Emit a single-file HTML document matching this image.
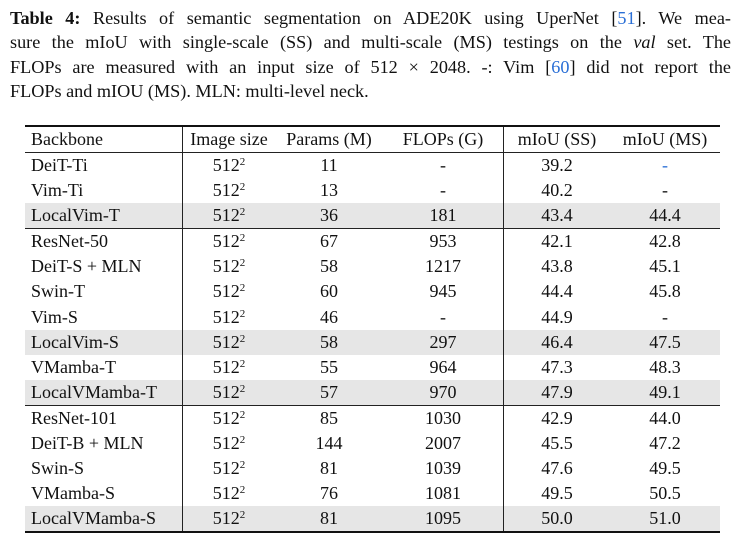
<!DOCTYPE html>
<html><head><style>
body{margin:0;width:745px;height:542px;background:#fff;font-family:"Liberation Serif",serif;color:#111;position:relative;overflow:hidden}
.cap{position:absolute;left:10px;top:6px;width:721px;font-size:18.2px;line-height:24.3px}
.cap div{text-align:justify;text-align-last:justify;white-space:nowrap}
.cap div.l{text-align-last:left}
.cap b{font-weight:bold}
.blue{color:#2a6fd6}
table{position:absolute;left:25px;top:125px;width:695px;border-collapse:collapse;font-size:18px}
td{padding:0;text-align:center;white-space:nowrap;line-height:25.1px;height:25.1px}
td:first-child{text-align:left;padding-left:6px;width:151px;border-right:1px solid #222}
td:nth-child(2){width:92px}td:nth-child(3){width:108px}td:nth-child(4){width:120px;border-right:1px solid #222}
td:nth-child(5){width:106px}
tr.h td{height:25px;line-height:25px}
tr.g td{background:#e6e6e6}
tr.top{border-top:2px solid #111}
tr.hb{border-bottom:1px solid #222}
tr.mb{border-bottom:1px solid #222}
tr.last{border-bottom:2px solid #111}
sup{font-size:11px;vertical-align:6px;line-height:0}
</style></head><body>
<div class="cap">
<div><b>Table 4:</b> Results of semantic segmentation on ADE20K using UperNet [<span class="blue">51</span>]. We mea-</div>
<div>sure the mIoU with single-scale (SS) and multi-scale (MS) testings on the <i>val</i> set. The</div>
<div>FLOPs are measured with an input size of 512 × 2048. -: Vim [<span class="blue">60</span>] did not report the</div>
<div class="l">FLOPs and mIOU (MS). MLN: multi-level neck.</div>
</div>
<table>
<tr class="h top hb"><td>Backbone</td><td>Image size</td><td>Params (M)</td><td>FLOPs (G)</td><td>mIoU (SS)</td><td>mIoU (MS)</td></tr>
<tr><td>DeiT-Ti</td><td>512<sup>2</sup></td><td>11</td><td>-</td><td>39.2</td><td class="blue">-</td></tr>
<tr><td>Vim-Ti</td><td>512<sup>2</sup></td><td>13</td><td>-</td><td>40.2</td><td>-</td></tr>
<tr class="g mb"><td>LocalVim-T</td><td>512<sup>2</sup></td><td>36</td><td>181</td><td>43.4</td><td>44.4</td></tr>
<tr><td>ResNet-50</td><td>512<sup>2</sup></td><td>67</td><td>953</td><td>42.1</td><td>42.8</td></tr>
<tr><td>DeiT-S + MLN</td><td>512<sup>2</sup></td><td>58</td><td>1217</td><td>43.8</td><td>45.1</td></tr>
<tr><td>Swin-T</td><td>512<sup>2</sup></td><td>60</td><td>945</td><td>44.4</td><td>45.8</td></tr>
<tr><td>Vim-S</td><td>512<sup>2</sup></td><td>46</td><td>-</td><td>44.9</td><td>-</td></tr>
<tr class="g"><td>LocalVim-S</td><td>512<sup>2</sup></td><td>58</td><td>297</td><td>46.4</td><td>47.5</td></tr>
<tr><td>VMamba-T</td><td>512<sup>2</sup></td><td>55</td><td>964</td><td>47.3</td><td>48.3</td></tr>
<tr class="g mb"><td>LocalVMamba-T</td><td>512<sup>2</sup></td><td>57</td><td>970</td><td>47.9</td><td>49.1</td></tr>
<tr><td>ResNet-101</td><td>512<sup>2</sup></td><td>85</td><td>1030</td><td>42.9</td><td>44.0</td></tr>
<tr><td>DeiT-B + MLN</td><td>512<sup>2</sup></td><td>144</td><td>2007</td><td>45.5</td><td>47.2</td></tr>
<tr><td>Swin-S</td><td>512<sup>2</sup></td><td>81</td><td>1039</td><td>47.6</td><td>49.5</td></tr>
<tr><td>VMamba-S</td><td>512<sup>2</sup></td><td>76</td><td>1081</td><td>49.5</td><td>50.5</td></tr>
<tr class="g last"><td>LocalVMamba-S</td><td>512<sup>2</sup></td><td>81</td><td>1095</td><td>50.0</td><td>51.0</td></tr>
</table>
</body></html>
